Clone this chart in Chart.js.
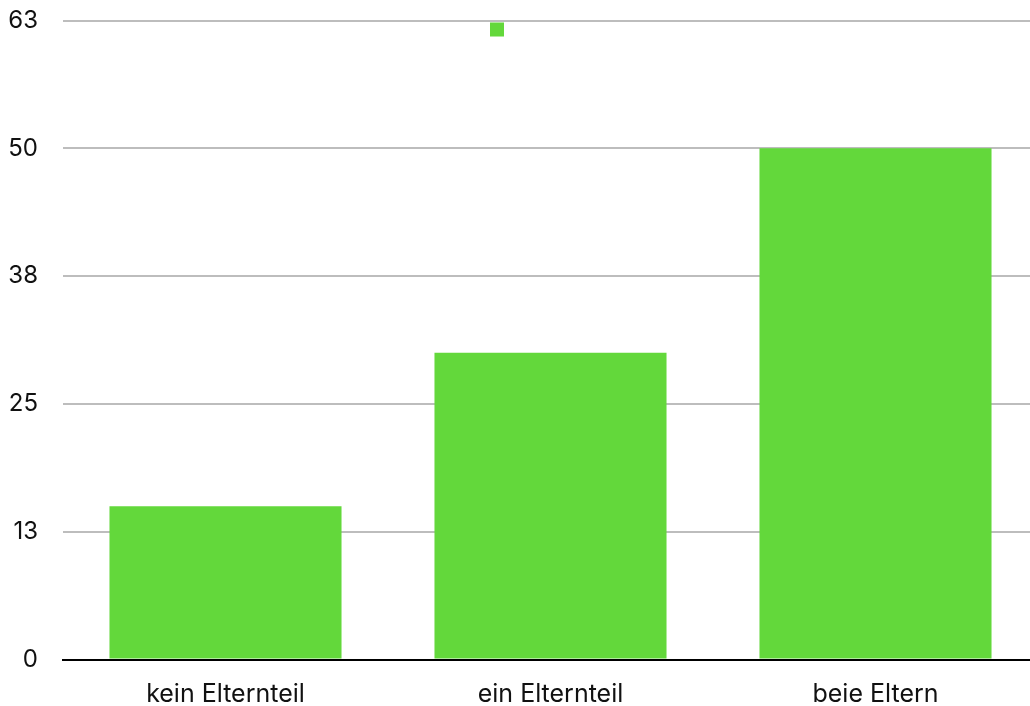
<!DOCTYPE html>
<html>
<head>
<meta charset="utf-8">
<script src="https://cdn.jsdelivr.net/npm/chart.js@4/dist/chart.umd.min.js"></script>
<style>
  html, body { margin: 0; padding: 0; background: #fff; overflow: hidden; }
  #wrap { width: 1038px; height: 706px; }
</style>
</head>
<body>
<div id="wrap"><canvas id="elternChart"></canvas></div>
<script>
// Daten
const categories = ['kein Elternteil', 'ein Elternteil', 'beie Eltern'];
const values = [15, 30, 50];
const yTickLabels = ['0', '13', '25', '38', '50', '63'];

const fontFamily = 'Inter, "Liberation Sans", Arial, sans-serif';

// Legende in die Zeichenfläche schieben (wie im Original)
const legendInside = {
    id: 'legendInside',
    afterLayout(chart) {
        const lg = chart.legend;
        const area = chart.chartArea;
        const h = lg.height;
        lg.top = area.top;
        lg.bottom = area.top + h;
        lg.left = 0;
        lg.right = 1001;
    }
};

const ctx = document.getElementById('elternChart').getContext('2d');

const myChart = new Chart(ctx, {
    type: 'bar',
    data: {
        labels: categories,
        datasets: [{
            label: '',
            data: values,
            backgroundColor: '#63d83b',
            borderWidth: 0,
            categoryPercentage: 1,
            barPercentage: 0.714
        }]
    },
    options: {
        responsive: true,
        maintainAspectRatio: false,
        animation: false,
        layout: {
            padding: { top: 0.5, left: 0, right: 0, bottom: -23.5 }
        },
        plugins: {
            legend: {
                position: 'top',
                maxHeight: 20,
                labels: {
                    boxWidth: 14,
                    boxHeight: 14,
                    padding: 2,
                    font: { size: 14 }
                }
            },
            tooltip: { enabled: false }
        },
        scales: {
            x: {
                grid: { display: false, drawTicks: false },
                border: { display: true, color: '#000', width: 2 },
                ticks: {
                    color: '#111',
                    padding: 20,
                    font: { family: fontFamily, size: 25 }
                }
            },
            y: {
                min: 0,
                max: 62.5,
                border: { display: false },
                grid: {
                    drawTicks: false,
                    lineWidth: 2,
                    color: c => c.tick && c.tick.value === 0 ? 'rgba(0,0,0,0)' : '#bdbdbd'
                },
                ticks: {
                    stepSize: 12.5,
                    color: '#111',
                    padding: 25,
                    font: { family: fontFamily, size: 24 },
                    callback: (v, i) => yTickLabels[i]
                },
                afterFit: scale => {
                    scale.width = 63;
                    scale.paddingTop = 0;
                }
            }
        }
    },
    plugins: [legendInside]
});
</script>
</body>
</html>
